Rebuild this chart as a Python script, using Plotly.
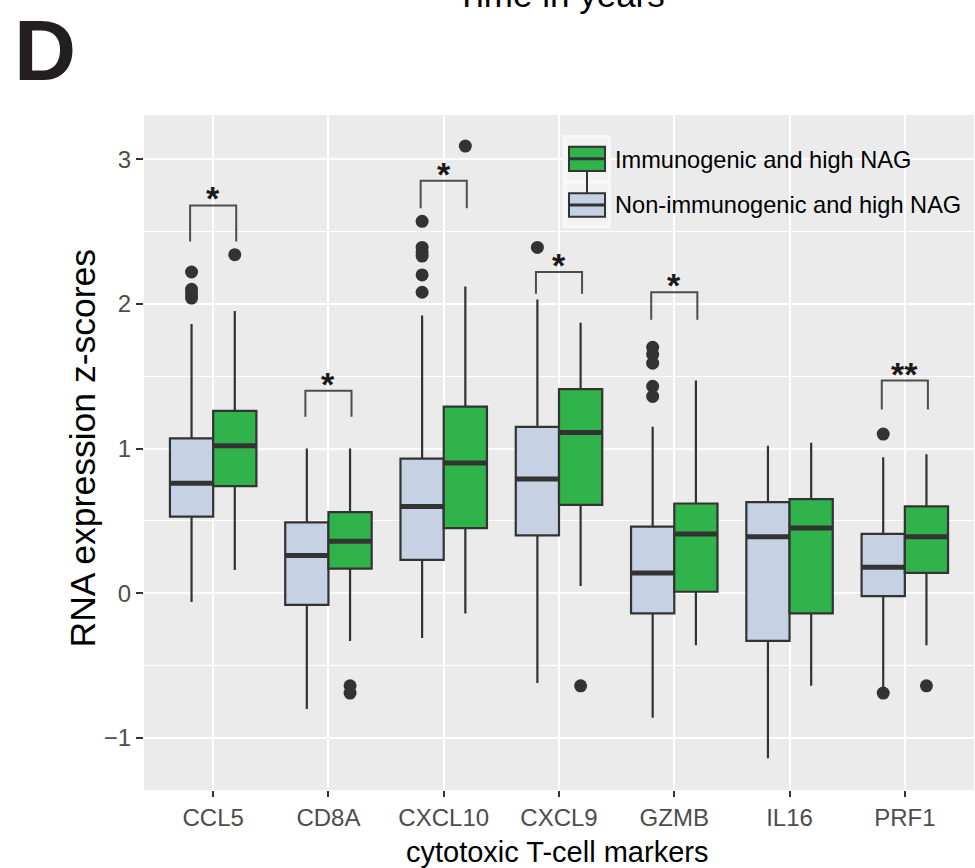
import plotly.graph_objects as go

# ---- data -------------------------------------------------------------
markers = ["CCL5", "CD8A", "CXCL10", "CXCL9", "GZMB", "IL16", "PRF1"]

# Non-immunogenic and high NAG
nonimm_lo = [-0.06, -0.80, -0.31, -0.62, -0.86, -1.14, -0.65]
nonimm_q1 = [0.53, -0.08, 0.23, 0.40, -0.14, -0.33, -0.02]
nonimm_med = [0.76, 0.26, 0.60, 0.79, 0.14, 0.39, 0.18]
nonimm_q3 = [1.07, 0.49, 0.93, 1.15, 0.46, 0.63, 0.41]
nonimm_hi = [1.86, 1.00, 1.92, 2.03, 1.15, 1.02, 0.94]
nonimm_out = [
    [2.22, 2.10, 2.07, 2.04],
    [],
    [2.57, 2.39, 2.36, 2.33, 2.20, 2.08],
    [2.39],
    [1.70, 1.65, 1.59, 1.43, 1.36],
    [],
    [1.10, -0.69],
]

# Immunogenic and high NAG
imm_lo = [0.16, -0.33, -0.14, 0.05, -0.36, -0.64, -0.36]
imm_q1 = [0.74, 0.17, 0.45, 0.61, 0.01, -0.14, 0.14]
imm_med = [1.02, 0.36, 0.90, 1.11, 0.41, 0.45, 0.39]
imm_q3 = [1.26, 0.56, 1.29, 1.41, 0.62, 0.65, 0.60]
imm_hi = [1.95, 1.00, 2.12, 1.87, 1.47, 1.04, 0.96]
imm_out = [[2.34], [-0.64, -0.69], [3.09], [-0.64], [], [], [-0.64]]

# significance brackets (top bar, leg ends, label)
sig_top = [2.68, 1.40, 2.85, 2.22, 2.08, None, 1.47]
sig_leg = [2.43, 1.22, 2.66, 2.07, 1.89, None, 1.27]
sig_label = ["*", "*", "*", "*", "*", "", "**"]

y_ticks = [-1, 0, 1, 2, 3]

# ---- styling ----------------------------------------------------------
FONT = "Liberation Sans, Arial, Helvetica, sans-serif"
C_NON = "#C6D1E4"
C_IMM = "#30B34B"
C_LINE = "#333333"
W, H = 975, 868
ML, MR, MT, MB = 144, 1, 115, 78
PW, PH = W - ML - MR, H - MT - MB

DODGE = 0.1875
BOXW = 0.375
BRACKET = 0.2


def px_x(px):
    return (px - ML) / PW


def px_y(py):
    return (H - MB - py) / PH


cats = list(range(1, len(markers) + 1))
x_non = [c - DODGE for c in cats]
x_imm = [c + DODGE for c in cats]

fig = go.Figure()


def add_group(xs, lo, q1, med, q3, hi, outs, fill, name):
    fig.add_trace(go.Box(
        x=xs, lowerfence=lo, q1=q1, median=med, q3=q3, upperfence=hi,
        width=BOXW, whiskerwidth=0, boxpoints=False,
        fillcolor=fill, line=dict(color=C_LINE, width=2.2),
        name=name, showlegend=False, hoverinfo="skip",
    ))
    # thick median bars
    mx, my = [], []
    for x, m in zip(xs, med):
        mx += [x - BOXW / 2, x + BOXW / 2, None]
        my += [m, m, None]
    fig.add_trace(go.Scatter(
        x=mx, y=my, mode="lines", line=dict(color=C_LINE, width=5),
        showlegend=False, hoverinfo="skip",
    ))
    # outliers
    ox, oy = [], []
    for x, vals in zip(xs, outs):
        for v in vals:
            ox.append(x)
            oy.append(v)
    fig.add_trace(go.Scatter(
        x=ox, y=oy, mode="markers",
        marker=dict(color=C_LINE, size=13, line=dict(width=0)),
        showlegend=False, hoverinfo="skip",
    ))


add_group(x_non, nonimm_lo, nonimm_q1, nonimm_med, nonimm_q3, nonimm_hi,
          nonimm_out, C_NON, "Non-immunogenic and high NAG")
add_group(x_imm, imm_lo, imm_q1, imm_med, imm_q3, imm_hi,
          imm_out, C_IMM, "Immunogenic and high NAG")

# significance brackets
bx, by = [], []
for c, top, leg in zip(cats, sig_top, sig_leg):
    if top is None:
        continue
    bx += [c - BRACKET, c - BRACKET, c + BRACKET, c + BRACKET, None]
    by += [leg, top, top, leg, None]
fig.add_trace(go.Scatter(
    x=bx, y=by, mode="lines", line=dict(color="#4D4D4D", width=2),
    showlegend=False, hoverinfo="skip",
))

annotations = []
for c, top, lab in zip(cats, sig_top, sig_label):
    if top is None or not lab:
        continue
    annotations.append(dict(
        x=c, y=top, xref="x", yref="y", text=f"<b>{lab}</b>",
        showarrow=False, xanchor="center", yanchor="middle", yshift=7,
        font=dict(family=FONT, size=34, color="#1A1A1A"),
    ))

# axis titles and headings
annotations += [
    dict(x=px_x(557), y=px_y(852), xref="paper", yref="paper",
         text="cytotoxic T-cell markers", showarrow=False,
         xanchor="center", yanchor="middle",
         font=dict(family=FONT, size=29, color="black")),
    dict(x=px_x(82), y=px_y(448.5), xref="paper", yref="paper",
         text="RNA expression z-scores", showarrow=False, textangle=-90,
         xanchor="center", yanchor="middle",
         font=dict(family=FONT, size=35.5, color="black")),
    dict(x=px_x(560), y=px_y(-6), xref="paper", yref="paper",
         text="Time in years", showarrow=False,
         xanchor="center", yanchor="middle",
         font=dict(family=FONT, size=35, color="black")),
    dict(x=px_x(12), y=px_y(50), xref="paper", yref="paper",
         text="<b>D</b>", showarrow=False,
         xanchor="left", yanchor="middle",
         font=dict(family=FONT, size=86, color="#231F20")),
]

# legend (drawn inside the panel, top right)
leg_names = ["Immunogenic and high NAG", "Non-immunogenic and high NAG"]
leg_fill = [C_IMM, C_NON]
leg_text_y = [160, 205]
shapes = [
    dict(type="rect", xref="paper", yref="paper",
         x0=px_x(562.7), x1=px_x(610.7), y0=px_y(228.3), y1=px_y(135),
         fillcolor="#F8F8F8", line=dict(width=0), layer="above"),
]
key_rows = [(138.3, 180.0, 146.7, 171.0), (184.0, 225.7, 193.3, 216.7)]
for (k0, k1, b0, b1), fill in zip(key_rows, leg_fill):
    shapes.append(dict(type="rect", xref="paper", yref="paper",
                       x0=px_x(566.7), x1=px_x(608.3), y0=px_y(k1), y1=px_y(k0),
                       fillcolor="#F2F2F2", line=dict(width=0), layer="above"))
shapes.append(dict(type="line", xref="paper", yref="paper",
                   x0=px_x(587), x1=px_x(587), y0=px_y(193.3), y1=px_y(171),
                   line=dict(color=C_LINE, width=2), layer="above"))
for (k0, k1, b0, b1), fill in zip(key_rows, leg_fill):
    shapes.append(dict(type="rect", xref="paper", yref="paper",
                       x0=px_x(569), x1=px_x(605), y0=px_y(b1), y1=px_y(b0),
                       fillcolor=fill, line=dict(color=C_LINE, width=2),
                       layer="above"))
    mid = (b0 + b1) / 2
    shapes.append(dict(type="line", xref="paper", yref="paper",
                       x0=px_x(569), x1=px_x(605), y0=px_y(mid), y1=px_y(mid),
                       line=dict(color=C_LINE, width=3), layer="above"))
for name, ty in zip(leg_names, leg_text_y):
    annotations.append(dict(
        x=px_x(613), y=px_y(ty), xref="paper", yref="paper", text=name,
        showarrow=False, xanchor="left", yanchor="middle",
        font=dict(family=FONT, size=23.6, color="black"),
    ))

fig.update_layout(
    width=W, height=H,
    margin=dict(l=ML, r=MR, t=MT, b=MB, pad=0),
    paper_bgcolor="white", plot_bgcolor="#EBEBEB",
    boxmode="overlay", showlegend=False,
    font=dict(family=FONT),
    annotations=annotations, shapes=shapes,
    xaxis=dict(
        range=[0.4, 7.6], tickmode="array", tickvals=cats, ticktext=markers,
        showgrid=True, gridcolor="white", gridwidth=2, zeroline=False,
        ticks="outside", ticklen=6, tickwidth=2, tickcolor=C_LINE,
        tickfont=dict(family=FONT, size=24, color="#4D4D4D"),
        showline=False, fixedrange=True,
    ),
    yaxis=dict(
        range=[-1.36, 3.305], tickmode="array", tickvals=y_ticks,
        ticktext=[("\u2212" + str(-v)) if v < 0 else str(v) for v in y_ticks],
        showgrid=True, gridcolor="white", gridwidth=2, zeroline=False,
        ticks="outside", ticklen=7, tickwidth=2, tickcolor=C_LINE,
        tickfont=dict(family=FONT, size=24, color="#4D4D4D"),
        minor=dict(tickmode="linear", tick0=0, dtick=0.5, showgrid=True,
                   gridcolor="white", gridwidth=1, ticks=""),
        showline=False, fixedrange=True,
    ),
)

fig.write_html("out.html")
